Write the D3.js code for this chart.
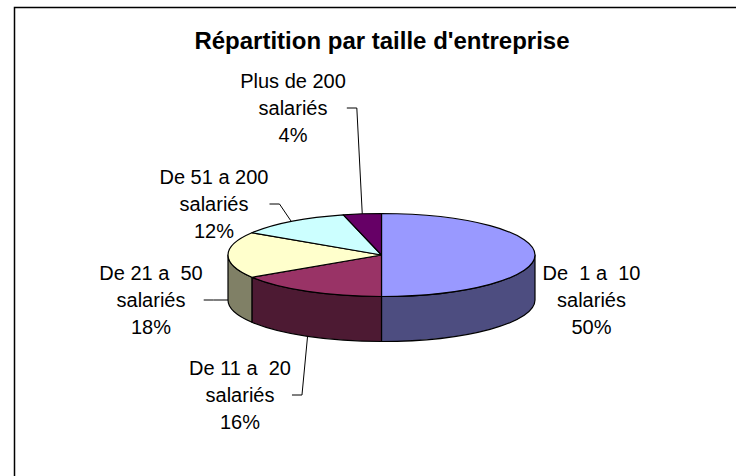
<!DOCTYPE html>
<html>
<head>
<meta charset="utf-8">
<script src="https://cdn.jsdelivr.net/npm/d3@7"></script>
<style>
    body { margin: 0; background: #fff; }
    text { font-family: Arial, "Liberation Sans", sans-serif; fill: #000; }
</style>
</head>
<body>
<svg id="chart" width="736" height="476"></svg>
<script>
const title = "Répartition par taille d'entreprise"
const categories = ['De  1 a  10', 'De 11 a  20', 'De 21 a  50', 'De 51 a 200', 'Plus de 200']
const values = [50, 16, 18, 12, 4]
const topColors = ['#9999FF', '#993366', '#FFFFCC', '#CCFFFF', '#660066']
// where each label block sits (centre of its middle line), as placed on the original
const labelCenters = [[591.5, 300], [240, 395], [151, 300], [214, 204], [293, 108]]

let svg = d3.select('#chart')
let cx = 381.5, cy = 255, rx = 153.5, ry = 41.5, depth = 45
let lineGap = 27

function pt(a, dy) {
    return [cx + rx * Math.sin(a), cy - ry * Math.cos(a) + (dy || 0)]
}

function shade(c) {
    let rgb = d3.rgb(c)
    return d3.rgb(rgb.r * 0.5, rgb.g * 0.5, rgb.b * 0.5).formatHex()
}

// chart frame
svg.append('path')
    .attr('d', 'M14.5,476V7.5H736')
    .attr('fill', 'none')
    .attr('stroke', '#000')
    .attr('stroke-width', 1.5)

svg.append('text')
    .attr('x', 382)
    .attr('y', 49)
    .attr('text-anchor', 'middle')
    .style('font-size', '24px')
    .style('font-weight', 'bold')
    .text(title)

let arcs = d3.pie().sort(null).startAngle(0).endAngle(2 * Math.PI)(values)

// outer walls, front half only
let g = svg.append('g')
arcs.forEach((d, i) => {
    let b0 = Math.max(d.startAngle, Math.PI / 2)
    let b1 = Math.min(d.endAngle, 3 * Math.PI / 2)
    if (b1 <= b0) return
    let p0 = pt(b0), p1 = pt(b1), q1 = pt(b1, depth), q0 = pt(b0, depth)
    g.append('path')
        .attr('d', `M${p0}A${rx},${ry} 0 0 1 ${p1}L${q1}A${rx},${ry} 0 0 0 ${q0}Z`)
        .attr('fill', shade(topColors[i]))
        .attr('stroke', '#000')
        .attr('stroke-width', 1.2)
        .attr('stroke-linejoin', 'round')
})

// top faces
arcs.forEach((d, i) => {
    let p0 = pt(d.startAngle), p1 = pt(d.endAngle)
    let large = d.endAngle - d.startAngle > Math.PI ? 1 : 0
    g.append('path')
        .attr('d', `M${cx},${cy}L${p0}A${rx},${ry} 0 ${large} 1 ${p1}Z`)
        .attr('fill', topColors[i])
        .attr('stroke', '#000')
        .attr('stroke-width', 1.2)
        .attr('stroke-linejoin', 'round')
})

// labels + leader lines
let total = d3.sum(values)
arcs.forEach((d, i) => {
    let [lx, ly] = labelCenters[i]
    let lines = [categories[i], 'salariés', Math.round(values[i] / total * 100) + '%']
    let lab = svg.append('g')
    let widths = lines.map((s, k) => {
        let t = lab.append('text')
            .attr('x', lx)
            .attr('y', ly + 7 + (k - 1) * lineGap)
            .attr('text-anchor', 'middle')
            .style('font-size', '20px')
            .style('white-space', 'pre')
            .text(s)
        return t.node().getComputedTextLength()
    })
    let halfW = d3.max(widths) / 2

    let mid = (d.startAngle + d.endAngle) / 2
    let anchor = Math.cos(mid) < 0.01 ? pt(mid, depth) : pt(mid)
    let startX = anchor[0] < lx ? lx - halfW - 1 : lx + halfW + 1
    if (Math.abs(anchor[0] - startX) < 15) return
    let dir = anchor[0] < startX ? -1 : 1
    svg.append('path')
        .attr('d', `M${startX},${ly}H${startX + dir * 10}L${anchor}`)
        .attr('fill', 'none')
        .attr('stroke', '#000')
        .attr('stroke-width', 1)
})
</script>
</body>
</html>
